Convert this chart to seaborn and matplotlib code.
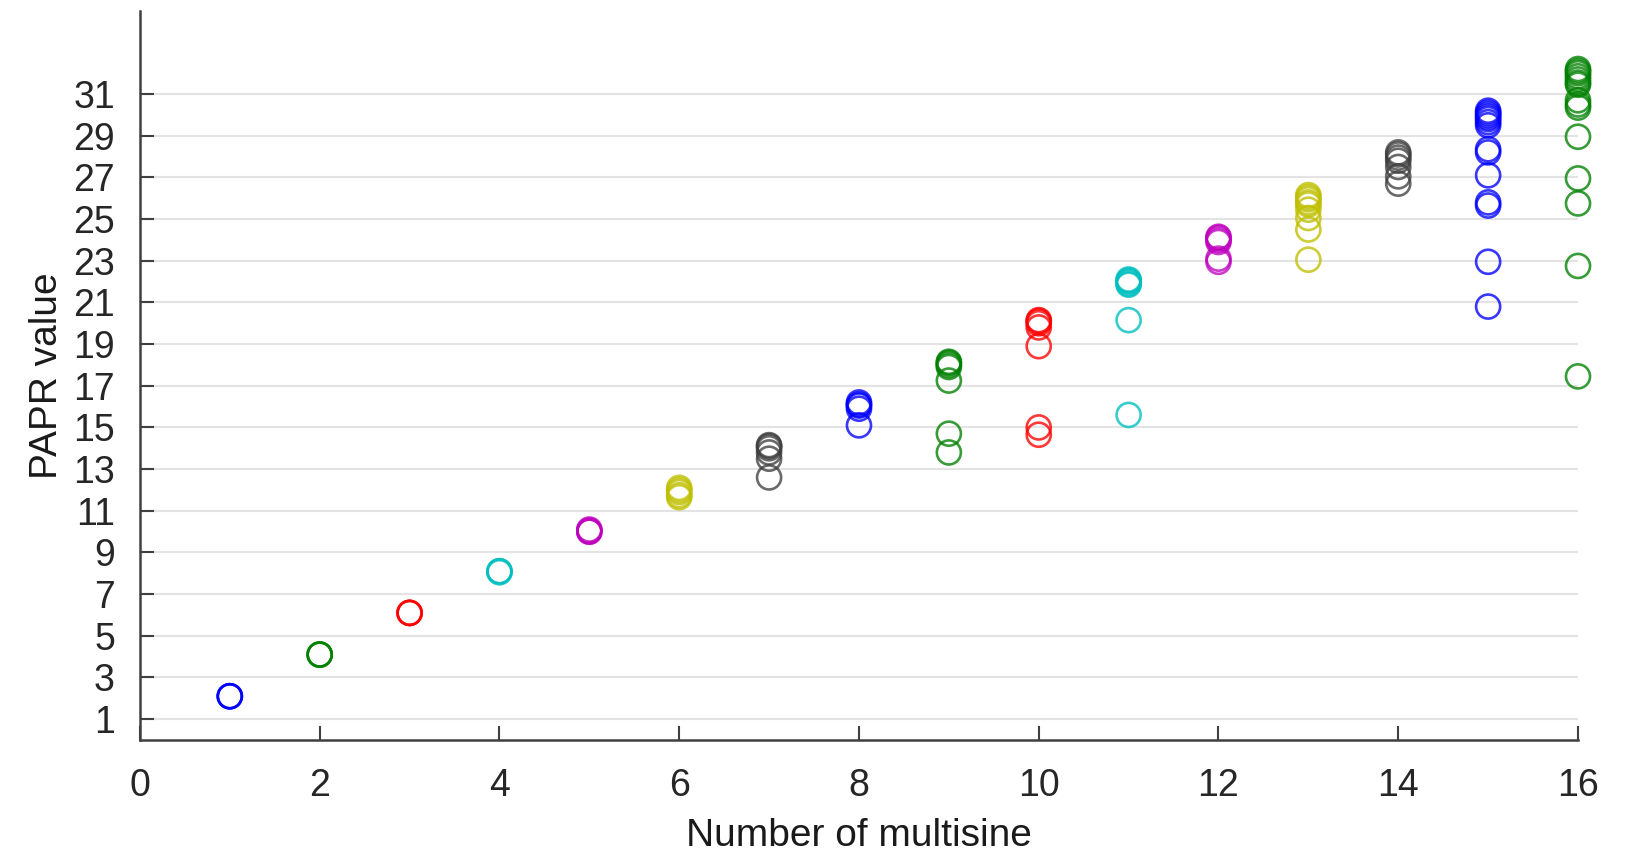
import matplotlib
matplotlib.use("Agg")
import matplotlib.pyplot as plt
import seaborn as sns
import pandas as pd

# PAPR values observed for each number of multisines (several trials each)
n1 = [2.1, 2.1, 2.1]
n2 = [4.1, 4.1, 4.1]
n3 = [6.1, 6.1, 6.1]
n4 = [8.1, 8.05, 8.1]
n5 = [10.1, 10.0, 10.05, 10.0]
n6 = [12.1, 12.0, 11.9, 11.75, 11.65]
n7 = [14.15, 14.1, 14.0, 13.8, 13.5, 12.6]
n8 = [16.2, 16.1, 16.05, 15.9, 15.1]
n9 = [18.15, 18.1, 18.0, 17.9, 17.25, 14.7, 13.8]
n10 = [20.15, 20.1, 20.0, 19.8, 18.9, 15.0, 14.65]
n11 = [22.1, 22.05, 22.0, 21.9, 21.85, 20.15, 15.6]
n12 = [24.15, 24.1, 24.0, 23.9, 23.1, 22.95]
n13 = [26.15, 26.05, 25.95, 25.8, 25.7, 25.45, 25.05, 24.5, 23.05]
n14 = [28.2, 28.1, 27.95, 27.8, 27.5, 27.05, 26.7]
n15 = [30.2, 30.1, 30.0, 29.9, 29.8, 29.65, 29.5, 28.35, 28.2, 27.1, 25.8, 25.65, 22.95, 20.8]
n16 = [32.2, 32.1, 32.0, 31.85, 31.7, 31.55, 31.45, 30.7, 30.5, 30.35, 28.95, 26.95, 25.75, 22.75, 17.45]

all_values = [n1, n2, n3, n4, n5, n6, n7, n8, n9, n10, n11, n12, n13, n14, n15, n16]
num_multisine = list(range(1, 17))

color_cycle = ["#0000ff", "#008000", "#ff0000", "#00bfbf", "#bf00bf", "#bfbf00", "#404040"]

rows = []
for n, vals in zip(num_multisine, all_values):
    for v in vals:
        rows.append({"n": n, "papr": v, "grp": str(n)})
df = pd.DataFrame(rows)
palette = {str(n): color_cycle[(n - 1) % len(color_cycle)] for n in num_multisine}

sns.set_theme(style="white")
plt.rcParams["font.family"] = ["Liberation Sans", "DejaVu Sans"]

fig = plt.figure(figsize=(16.29, 8.55), dpi=100)
ax = fig.add_axes([0.0859, 0.1345, 0.8828, 0.853])

sns.scatterplot(data=df, x="n", y="papr", hue="grp", palette=palette, ax=ax,
                s=300, marker="o", facecolors="none", linewidth=1.9,
                alpha=0.78, legend=False, zorder=3, clip_on=False)
# make open circles coloured by edge
coll = ax.collections[-1]
coll.set_edgecolors(df["grp"].map(palette).tolist())
coll.set_facecolors("none")
coll.set_alpha(0.78)
coll.set_clip_on(False)

ax.set_xlim(0, 16)
ax.set_ylim(0, 35)
ax.set_xticks(range(0, 17, 2))
ax.set_yticks(range(1, 32, 2))
ax.yaxis.grid(True, color="#e3e3e3", linewidth=1.5, zorder=0)
ax.xaxis.grid(False)
ax.set_axisbelow(True)

for side in ["top", "right"]:
    ax.spines[side].set_visible(False)
for side in ["left", "bottom"]:
    ax.spines[side].set_color("#404040")
    ax.spines[side].set_linewidth(1.8)

ax.tick_params(axis="both", direction="in", length=10, width=1.5,
               color="#404040", labelsize=27, labelcolor="#262626",
               bottom=True, left=True)
ax.tick_params(axis="y", pad=18)
ax.tick_params(axis="x", pad=20)

ax.set_xlabel("Number of multisine", fontsize=28, color="#1a1a1a", labelpad=10)
ax.set_ylabel("PAPR value", fontsize=28, color="#1a1a1a", labelpad=6)

fig.savefig("out.png", dpi=100)
